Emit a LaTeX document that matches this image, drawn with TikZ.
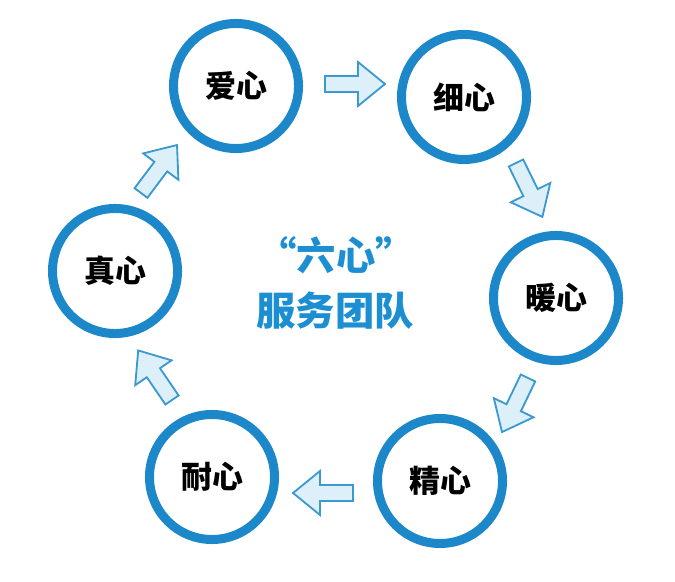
\documentclass[tikz,border=0pt]{standalone}
\usepackage{fontspec}
\newfontfamily\cjk{Noto Sans CJK SC}
\definecolor{ringblue}{HTML}{1C88C9}
\definecolor{textblue}{HTML}{1B8FD2}
\definecolor{arrowfill}{HTML}{DDF0FA}
\definecolor{arrowline}{HTML}{3A9AD0}
\tikzset{
  ring/.style={circle,draw=ringblue,fill=white,line width=2.25mm,minimum size=3.125cm,inner sep=0pt,font=\cjk\bfseries\fontsize{22}{26}\selectfont},
  blockarrow/.style={draw=arrowline,fill=arrowfill,line width=1.3pt,line join=miter},
  title/.style={text=textblue,font=\cjk\bfseries\fontsize{28}{34}\selectfont}
}
\begin{document}
\begin{tikzpicture}[x=0.025cm,y=-0.025cm]
\useasboundingbox (0,0) rectangle (675,582);
% six circles
\foreach \x/\y/\gt/\nm in {236/86/爱心/ai,464/97/细心/xi,556/298/暖心/nuan,440/481/精心/jing,212/477/耐心/nai,115/271/真心/zhen}\node[ring] (\nm) at (\x,\y) {\gt};
% arrows between them
\foreach \x/\y/\a in {325/84/0,516/163/-63.9,528/378/-115.7,353/493/180,172/400/124.3,141/193/53.1}\draw[blockarrow,shift={(\x,\y)},rotate=\a] (0,-8)--(33,-8)--(33,-22)--(60,0)--(33,22)--(33,8)--(0,8)--cycle;
% centre title
\node[title] (t1) at (336,255) {“六心”};
\node[title] (t2) at (335,311) {服务团队};
\end{tikzpicture}
\end{document}
